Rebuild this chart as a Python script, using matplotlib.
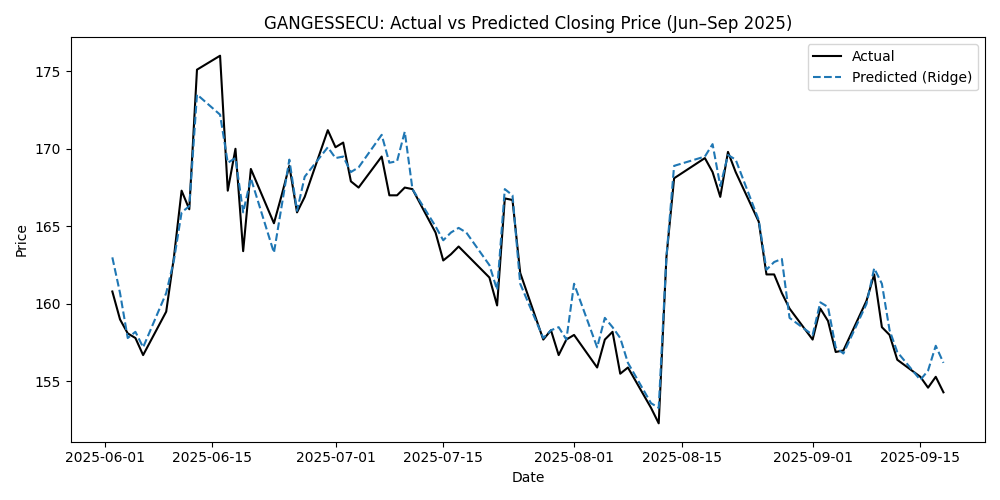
import pandas as pd
import numpy as np
import matplotlib.pyplot as plt

# trading days (Aug 15 market holiday)
dates = pd.bdate_range("2025-06-02", "2025-09-18")
dates = dates[dates != pd.Timestamp("2025-08-15")]

actual = [
    160.8, 159.0, 158.1, 157.8, 156.7, 159.5, 163.0, 167.3, 166.1, 175.1, 176.0,
    167.3, 170.0, 163.4, 168.7, 165.2, 167.0, 168.9, 165.9, 166.9, 171.2,
    170.1, 170.4, 167.9, 167.5, 169.5, 167.0, 167.0, 167.5, 167.4, 164.6, 162.8,
    163.2, 163.7, 163.2, 161.7, 159.9, 166.8, 166.7, 162.0, 157.7, 158.3, 156.7, 157.7,
    158.0, 155.9, 157.7, 158.2, 155.5, 155.9, 153.3, 152.3, 163.0, 168.1,
    169.4, 168.5, 166.9, 169.8, 168.5, 165.3, 161.9, 161.9, 160.7, 159.7,
    157.7, 159.7, 158.9, 156.9, 157.0, 160.2, 161.9, 158.5, 158.0, 156.4,
    155.3, 154.6, 155.3, 154.3,
]
predicted = [
    163.0, 160.7, 157.8, 158.2, 157.2, 160.7, 162.8, 165.9, 166.3, 173.5, 172.2,
    169.1, 169.4, 165.9, 168.1, 163.3, 166.3, 169.3, 166.0, 168.2, 170.1,
    169.4, 169.5, 168.5, 168.8, 170.9, 169.1, 169.2, 171.1, 167.4, 165.0, 164.1,
    164.6, 164.9, 164.6, 162.5, 160.9, 167.4, 167.0, 161.3, 157.8, 158.3, 158.5, 157.7,
    161.3, 157.2, 159.1, 158.5, 157.8, 156.2, 153.6, 153.3, 163.0, 168.9,
    169.5, 170.3, 167.6, 169.6, 169.3, 165.4, 162.2, 162.7, 162.9, 159.1,
    158.0, 160.1, 159.8, 157.2, 156.8, 160.0, 162.3, 161.3, 158.3, 156.9,
    155.1, 155.7, 157.3, 156.2,
]

fig, ax = plt.subplots(figsize=(10, 5), dpi=100)
ax.plot(dates, actual, color="black", linewidth=1.5, label="Actual")
ax.plot(dates, predicted, color="#1f77b4", linestyle="--", linewidth=1.5, label="Predicted (Ridge)")

ax.set_xticks(pd.to_datetime(["2025-06-01", "2025-06-15", "2025-07-01", "2025-07-15",
                              "2025-08-01", "2025-08-15", "2025-09-01", "2025-09-15"]))
ax.xaxis.set_major_formatter(plt.matplotlib.dates.DateFormatter("%Y-%m-%d"))
ax.set_title("GANGESSECU: Actual vs Predicted Closing Price (Jun\u2013Sep 2025)")
ax.set_xlabel("Date")
ax.set_ylabel("Price")
ax.legend(loc="upper right")

plt.tight_layout()
plt.savefig("out.png", dpi=100)
